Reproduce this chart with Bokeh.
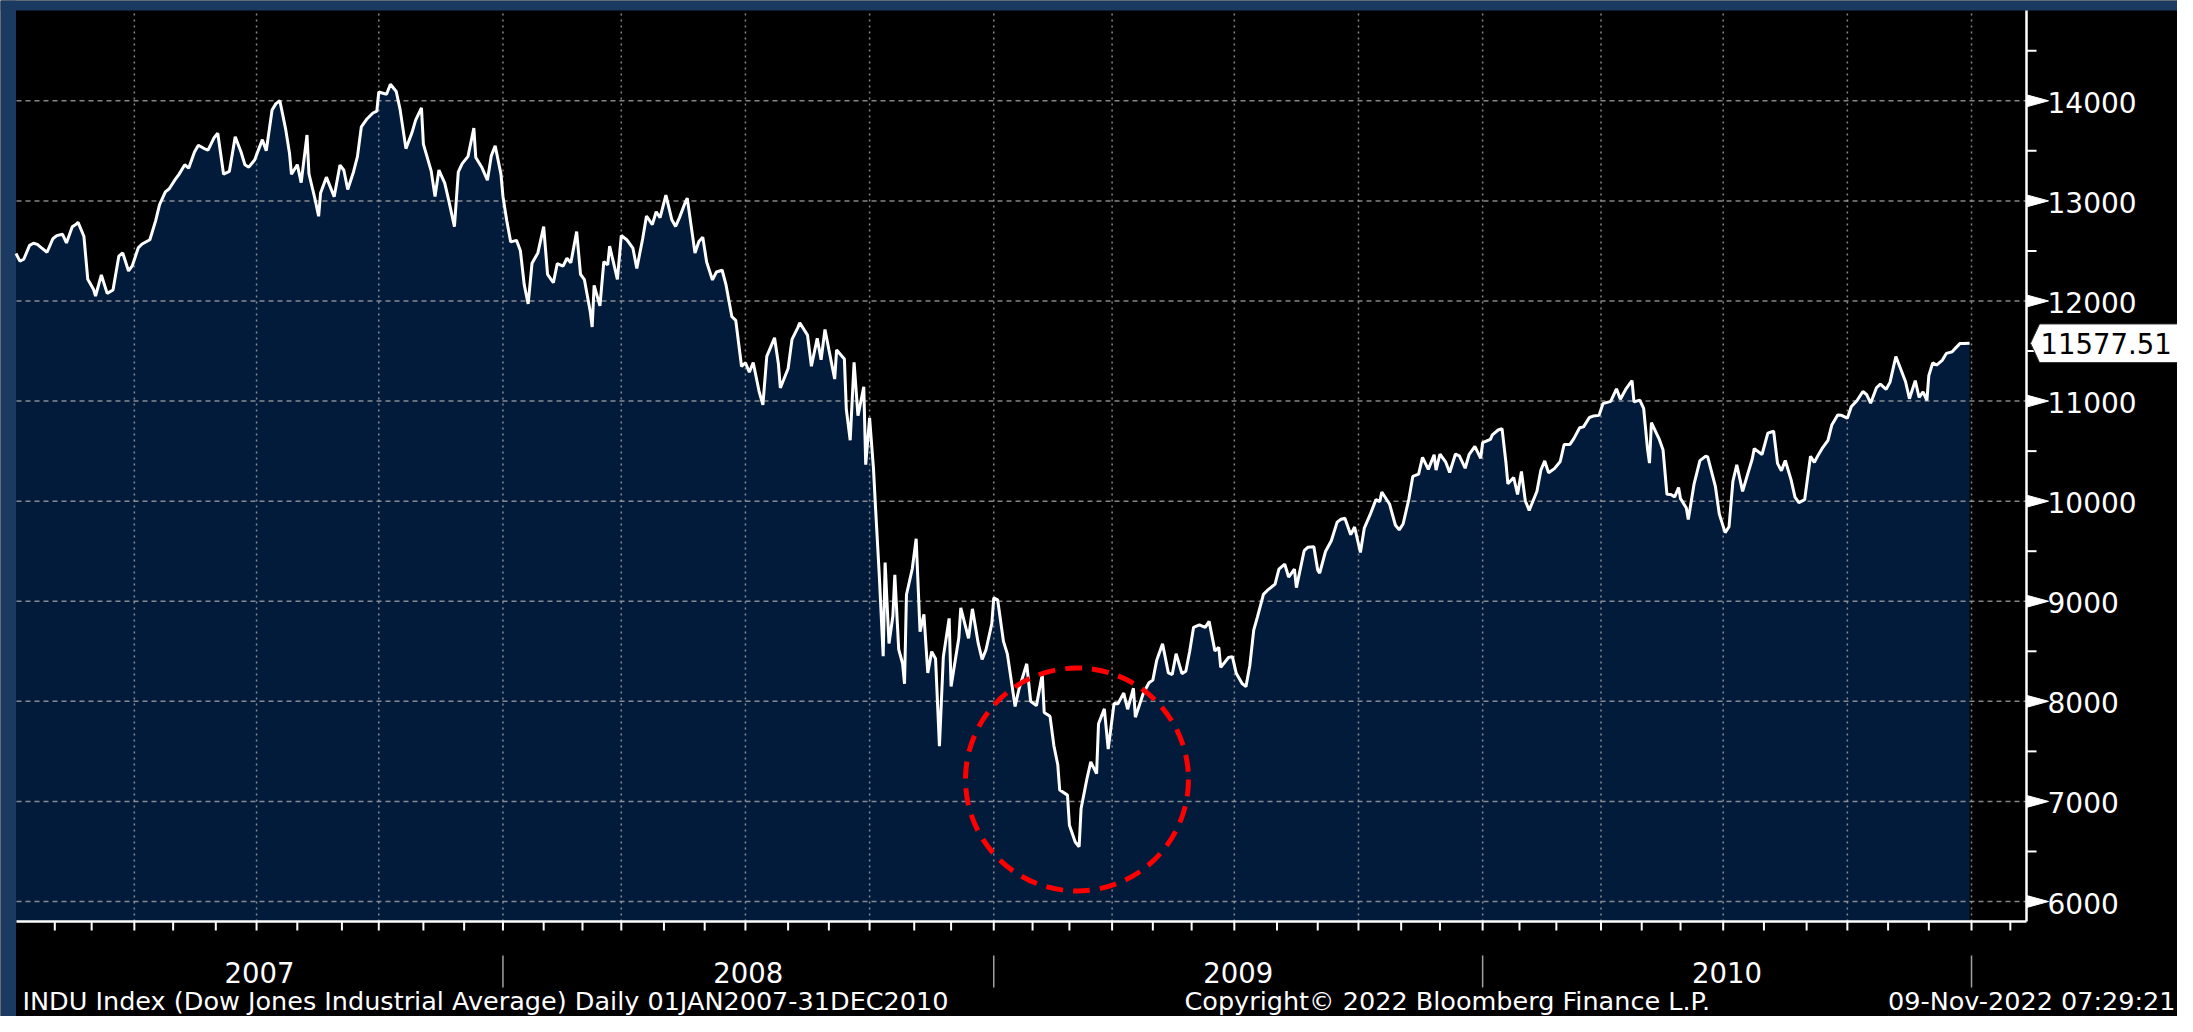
import numpy as np
from bokeh.plotting import figure
from bokeh.models import Range1d
from bokeh.core.properties import value
from bokeh.embed import file_html
from bokeh.resources import INLINE

# ---------------- data (DJIA closes) ----------------
D2007 = ["2007-01-03","2007-01-05","2007-01-09","2007-01-12","2007-01-17","2007-01-19","2007-01-23","2007-01-26","2007-01-31",
         "2007-02-02","2007-02-07","2007-02-09","2007-02-14","2007-02-16","2007-02-20","2007-02-23","2007-02-27",
         "2007-03-02","2007-03-05","2007-03-08","2007-03-13","2007-03-16","2007-03-21","2007-03-23","2007-03-28","2007-03-30",
         "2007-04-04","2007-04-09","2007-04-13","2007-04-18","2007-04-20","2007-04-25","2007-04-27",
         "2007-05-02","2007-05-04","2007-05-09","2007-05-11","2007-05-16","2007-05-18","2007-05-23","2007-05-25","2007-05-31",
         "2007-06-04","2007-06-07","2007-06-12","2007-06-15","2007-06-20","2007-06-22","2007-06-26","2007-06-29",
         "2007-07-06","2007-07-10","2007-07-13","2007-07-17","2007-07-19","2007-07-24","2007-07-26","2007-07-27",
         "2007-08-01","2007-08-03","2007-08-08","2007-08-09","2007-08-14","2007-08-16","2007-08-17","2007-08-22","2007-08-28","2007-08-31",
         "2007-09-05","2007-09-07","2007-09-12","2007-09-14","2007-09-18","2007-09-21","2007-09-26","2007-09-28",
         "2007-10-01","2007-10-05","2007-10-09","2007-10-12","2007-10-16","2007-10-19","2007-10-24","2007-10-26","2007-10-31",
         "2007-11-01","2007-11-07","2007-11-09","2007-11-13","2007-11-16","2007-11-20","2007-11-26","2007-11-28","2007-11-30",
         "2007-12-05","2007-12-10","2007-12-11","2007-12-14","2007-12-19","2007-12-21","2007-12-26","2007-12-31"]
C2007 = [12474,12398,12417,12556,12577,12565,12533,12487,12622,
         12653,12666,12580,12742,12767,12786,12647,12216,
         12114,12050,12260,12076,12110,12447,12481,12300,12354,
         12530,12569,12612,12803,12962,13090,13121,
         13212,13265,13362,13326,13488,13556,13523,13507,13628,
         13676,13267,13295,13640,13489,13361,13337,13409,
         13612,13501,13908,13972,14000,13717,13473,13266,
         13362,13182,13658,13271,13029,12846,13079,13237,13042,13358,
         13306,13114,13292,13442,13739,13821,13878,13896,
         14088,14066,14165,14093,13912,13522,13675,13807,13930,
         13567,13300,13043,13308,13177,13010,12743,13289,13372,
         13445,13728,13433,13339,13207,13450,13551,13265]

D2008 = ["2008-01-02","2008-01-04","2008-01-08","2008-01-11","2008-01-15","2008-01-17","2008-01-22","2008-01-24","2008-01-29",
         "2008-02-01","2008-02-05","2008-02-08","2008-02-12","2008-02-15","2008-02-20","2008-02-22","2008-02-27","2008-02-29",
         "2008-03-04","2008-03-07","2008-03-10","2008-03-11","2008-03-14","2008-03-18","2008-03-20","2008-03-24","2008-03-28",
         "2008-04-01","2008-04-04","2008-04-09","2008-04-11","2008-04-16","2008-04-18","2008-04-23","2008-04-25","2008-04-29",
         "2008-05-02","2008-05-07","2008-05-09","2008-05-13","2008-05-16","2008-05-19","2008-05-23","2008-05-28","2008-05-30",
         "2008-06-03","2008-06-06","2008-06-10","2008-06-13","2008-06-17","2008-06-20","2008-06-24","2008-06-27",
         "2008-07-01","2008-07-03","2008-07-08","2008-07-11","2008-07-15","2008-07-17","2008-07-23","2008-07-25","2008-07-28",
         "2008-08-01","2008-08-05","2008-08-08","2008-08-11","2008-08-15","2008-08-19","2008-08-22","2008-08-26","2008-08-28",
         "2008-09-02","2008-09-05","2008-09-08","2008-09-12","2008-09-15","2008-09-17","2008-09-19","2008-09-23","2008-09-26","2008-09-29",
         "2008-10-01","2008-10-03","2008-10-06","2008-10-08","2008-10-10","2008-10-13","2008-10-15","2008-10-17","2008-10-20",
         "2008-10-22","2008-10-24","2008-10-27","2008-10-28","2008-10-31",
         "2008-11-04","2008-11-06","2008-11-10","2008-11-12","2008-11-14","2008-11-18","2008-11-20","2008-11-24","2008-11-28",
         "2008-12-01","2008-12-05","2008-12-08","2008-12-12","2008-12-16","2008-12-19","2008-12-23","2008-12-26","2008-12-31"]
C2008 = [13044,12800,12590,12606,12501,12159,11971,12378,12480,
         12743,12265,12182,12373,12348,12427,12381,12694,12266,
         12213,11894,11740,12156,11951,12392,12361,12548,12216,
         12654,12609,12527,12325,12620,12849,12763,12891,12832,
         13058,12815,12745,12833,12986,13028,12480,12594,12638,
         12390,12210,12289,12307,12160,11843,11807,11346,
         11383,11288,11385,11100,10962,11446,11632,11370,11131,
         11326,11616,11734,11782,11659,11348,11628,11413,11715,
         11516,11220,11511,11421,10918,10609,11388,10854,11143,10365,
         10831,10325,9955,9258,8451,9387,8578,8852,9265,
         8519,8378,8175,9065,9325,
         9625,8696,8870,8283,8497,8425,7552,8443,8829,
         8149,8635,8934,8629,8924,8579,8419,8515,8776]

D2009 = ["2009-01-02","2009-01-06","2009-01-09","2009-01-13","2009-01-15","2009-01-20","2009-01-22","2009-01-28","2009-01-30",
         "2009-02-04","2009-02-09","2009-02-10","2009-02-13","2009-02-18","2009-02-20","2009-02-23","2009-02-27",
         "2009-03-02","2009-03-05","2009-03-09","2009-03-10","2009-03-13","2009-03-17","2009-03-20","2009-03-23","2009-03-26","2009-03-30",
         "2009-04-02","2009-04-06","2009-04-09","2009-04-14","2009-04-17","2009-04-20","2009-04-24","2009-04-29",
         "2009-05-01","2009-05-05","2009-05-08","2009-05-13","2009-05-15","2009-05-19","2009-05-22","2009-05-27","2009-05-29",
         "2009-06-02","2009-06-05","2009-06-10","2009-06-12","2009-06-17","2009-06-19","2009-06-22","2009-06-26","2009-06-30",
         "2009-07-02","2009-07-08","2009-07-10","2009-07-14","2009-07-16","2009-07-20","2009-07-23","2009-07-27","2009-07-31",
         "2009-08-04","2009-08-07","2009-08-11","2009-08-14","2009-08-17","2009-08-21","2009-08-25","2009-08-28",
         "2009-09-01","2009-09-02","2009-09-08","2009-09-11","2009-09-16","2009-09-18","2009-09-22","2009-09-25","2009-09-29",
         "2009-10-02","2009-10-06","2009-10-09","2009-10-14","2009-10-16","2009-10-19","2009-10-23","2009-10-28","2009-10-30",
         "2009-11-03","2009-11-06","2009-11-10","2009-11-13","2009-11-17","2009-11-20","2009-11-25","2009-11-27",
         "2009-12-01","2009-12-04","2009-12-08","2009-12-11","2009-12-15","2009-12-18","2009-12-22","2009-12-28","2009-12-31"]
C2009 = [9034,9015,8599,8474,8212,7949,8123,8375,8001,
         7957,8270,7889,7850,7556,7366,7114,7063,
         6763,6595,6547,6926,7224,7395,7278,7776,7925,7522,
         7978,7975,8083,7921,8131,7841,8076,8185,
         8212,8410,8575,8284,8268,8475,8277,8300,8500,
         8740,8764,8739,8799,8504,8539,8340,8438,8447,
         8280,8178,8147,8359,8711,8848,9069,9108,9171,
         9320,9370,9242,9321,9136,9505,9540,9544,
         9310,9281,9497,9605,9791,9820,9829,9665,9742,
         9487,9731,9865,10015,9996,10092,9972,9762,9713,
         9772,10023,10247,10270,10438,10318,10464,10310,
         10471,10389,10286,10471,10452,10329,10464,10547,10428]

D2010 = ["2010-01-04","2010-01-08","2010-01-11","2010-01-14","2010-01-19","2010-01-21","2010-01-22","2010-01-27","2010-01-29",
         "2010-02-02","2010-02-04","2010-02-08","2010-02-12","2010-02-17","2010-02-19","2010-02-23","2010-02-26",
         "2010-03-03","2010-03-05","2010-03-10","2010-03-12","2010-03-17","2010-03-19","2010-03-24","2010-03-26","2010-03-31",
         "2010-04-05","2010-04-09","2010-04-14","2010-04-16","2010-04-21","2010-04-26","2010-04-27","2010-04-30",
         "2010-05-04","2010-05-06","2010-05-07","2010-05-10","2010-05-14","2010-05-18","2010-05-20","2010-05-24","2010-05-26","2010-05-28",
         "2010-06-01","2010-06-04","2010-06-07","2010-06-10","2010-06-15","2010-06-18","2010-06-21","2010-06-25","2010-06-29",
         "2010-07-02","2010-07-07","2010-07-09","2010-07-13","2010-07-16","2010-07-20","2010-07-23","2010-07-26","2010-07-30",
         "2010-08-04","2010-08-09","2010-08-11","2010-08-13","2010-08-17","2010-08-20","2010-08-24","2010-08-26","2010-08-31",
         "2010-09-03","2010-09-08","2010-09-10","2010-09-14","2010-09-17","2010-09-21","2010-09-24","2010-09-28",
         "2010-10-01","2010-10-05","2010-10-08","2010-10-13","2010-10-15","2010-10-19","2010-10-22","2010-10-26","2010-10-29",
         "2010-11-02","2010-11-05","2010-11-09","2010-11-12","2010-11-16","2010-11-19","2010-11-23","2010-11-26","2010-11-30",
         "2010-12-01","2010-12-03","2010-12-07","2010-12-10","2010-12-14","2010-12-17","2010-12-21","2010-12-23","2010-12-28","2010-12-31"]
C2010 = [10584,10618,10663,10711,10725,10389,10173,10236,10067,
         10297,10003,9908,10099,10309,10402,10283,10325,
         10396,10566,10567,10625,10733,10742,10836,10850,10857,
         10974,10997,11123,11019,11125,11205,10992,11009,
         10926,10520,10380,10785,10620,10510,10068,10067,10043,10137,
         10025,9931,9816,10173,10405,10450,10442,10144,9870,
         9686,9744,10198,10364,10098,10230,10424,10525,10466,
         10680,10698,10378,10303,10406,10213,10040,9986,10015,
         10448,10388,10462,10527,10608,10761,10860,10858,
         10829,10944,11006,11096,11063,10979,11133,11170,11118,
         11189,11445,11346,11193,11023,11204,11036,11092,11006,
         11256,11382,11360,11410,11476,11492,11534,11574,11575,11577.51]

# NYSE holidays (the chart's x axis counts trading days)
HOLIDAYS = ["2007-01-15","2007-02-19","2007-04-06","2007-05-28","2007-07-04","2007-09-03","2007-11-22","2007-12-25",
            "2008-01-01","2008-01-21","2008-02-18","2008-03-21","2008-05-26","2008-07-04","2008-09-01","2008-11-27","2008-12-25",
            "2009-01-01","2009-01-19","2009-02-16","2009-04-10","2009-05-25","2009-07-03","2009-09-07","2009-11-26","2009-12-25",
            "2010-01-01","2010-01-18","2010-02-15","2010-04-02","2010-05-31","2010-07-05","2010-09-06","2010-11-25","2010-12-24",
            "2011-01-17","2011-02-21"]

YEAR_LABELS = ["2007", "2008", "2009", "2010"]
YEAR_BOUNDS = ["2008-01-01", "2009-01-01", "2010-01-01", "2011-01-01"]
Y_TICKS = [6000, 7000, 8000, 9000, 10000, 11000, 12000, 13000, 14000]
Y_MINOR = [6500, 7500, 8500, 9500, 10500, 11500, 12500, 13500, 14500]

TITLE_LEFT = "INDU Index (Dow Jones Industrial Average)  Daily 01JAN2007-31DEC2010"
TITLE_MID = "Copyright\u00a9 2022 Bloomberg Finance L.P."
TITLE_RIGHT = "09-Nov-2022 07:29:21"

# ---------------- derived positions ----------------
assert len(D2007) == len(C2007) and len(D2008) == len(C2008)
assert len(D2009) == len(C2009) and len(D2010) == len(C2010)

START = np.datetime64("2007-01-03")


def tidx(d):
    return np.busday_count(START, np.asarray(d, dtype="datetime64[D]"), holidays=HOLIDAYS)


dates = np.array(D2007 + D2008 + D2009 + D2010, dtype="datetime64[D]")
closes = np.array(C2007 + C2008 + C2009 + C2010, dtype=float)
x = tidx(dates).astype(float)

months = np.arange(np.datetime64("2007-02"), np.datetime64("2011-03"), dtype="datetime64[M]")
m_idx = tidx(months.astype("datetime64[D]"))
month_ticks = [float(v) for v in m_idx]
quarter_ticks = [float(v) for v, m in zip(m_idx, months.astype(int) % 12) if m in (0, 3, 6, 9)]
bounds = [float(v) for v in tidx(YEAR_BOUNDS)]
starts = [0.0] + bounds[:-1]
year_mids = [(a + b) / 2 for a, b in zip(starts, bounds)]

# ---------------- geometry (canvas pixels <-> data) ----------------
W, H = 2177, 1016
PPX = 1.94                  # px per trading day
PPY = 0.10009               # px per index point
X0 = -15.5 / PPX            # data x at canvas left
X1 = X0 + W / PPX
Y_TOP = 14000 + 100.3 / PPY  # data y at canvas top
Y_BOT = Y_TOP - H / PPY


def cx(px):
    return X0 + px / PPX


def cy(py):
    return Y_TOP - py / PPY


X_AXIS = cx(2026)
Y_AXIS = cy(921)
Y_PLOT_TOP = cy(10)

NAVY = "#031b3a"
BLUE = "#1b3a62"
GRID = "#a8a8a8"
FONT = value("DejaVu Sans")

p = figure(width=W, height=H, x_range=Range1d(X0, X1), y_range=Range1d(Y_BOT, Y_TOP),
           output_backend="svg", toolbar_location=None,
           x_axis_type=None, y_axis_type=None, min_border=0,
           background_fill_color="black", border_fill_color="black", outline_line_color=None)

# window border
p.quad(left=[X0, X0], right=[cx(15.5), X1], bottom=[Y_BOT, Y_PLOT_TOP], top=[Y_TOP, Y_TOP],
       fill_color=BLUE, line_color=None)

# area under the index
p.varea(x=x, y1=Y_AXIS, y2=closes, fill_color=NAVY, fill_alpha=1.0)

# grid
p.segment(x0=[cx(16)] * len(Y_TICKS), x1=[X_AXIS] * len(Y_TICKS), y0=Y_TICKS, y1=Y_TICKS,
          line_color=GRID, line_alpha=0.8, line_width=1.5, line_dash="5 4")
p.segment(x0=quarter_ticks, x1=quarter_ticks, y0=[Y_AXIS] * len(quarter_ticks), y1=[Y_PLOT_TOP] * len(quarter_ticks),
          line_color=GRID, line_alpha=0.8, line_width=1.5, line_dash="2 4")

# the index
p.line(x, closes, line_color="white", line_width=3)

# highlight circle around the low
imin = int(np.argmin(closes))
p.scatter(x=[x[imin] - 1.1], y=[closes[imin] + 672], marker="circle", size=223,
          fill_alpha=0, line_color="#ff0000", line_width=5, line_dash="17 10")

# axis lines
p.segment(x0=[cx(16), X_AXIS], y0=[Y_AXIS, Y_AXIS], x1=[X_AXIS, X_AXIS], y1=[Y_AXIS, Y_PLOT_TOP],
          line_color="white", line_width=2.5)

# x axis: month ticks, year separators, year labels
p.segment(x0=month_ticks, x1=month_ticks, y0=[Y_AXIS] * len(month_ticks), y1=[cy(930)] * len(month_ticks),
          line_color="white", line_width=2)
p.segment(x0=bounds, x1=bounds, y0=[cy(955)] * len(bounds), y1=[cy(987)] * len(bounds),
          line_color="#a0a0a0", line_width=1.5)
p.text(x=year_mids, y=[cy(972)] * len(year_mids), text=YEAR_LABELS, text_color="white",
       text_font=FONT, text_font_size=value("27.5px"), text_align="center", text_baseline="middle")

# y axis: arrow ticks, minor ticks, labels
p.patches(xs=[[X_AXIS, X_AXIS + 22 / PPX, X_AXIS] for _ in Y_TICKS],
          ys=[[v + 6 / PPY, v, v - 6 / PPY] for v in Y_TICKS],
          fill_color="white", line_color="white", line_width=1)
p.segment(x0=[X_AXIS] * len(Y_MINOR), x1=[X_AXIS + 10 / PPX] * len(Y_MINOR), y0=Y_MINOR, y1=Y_MINOR,
          line_color="white", line_width=2)
p.text(x=[cx(2047)] * len(Y_TICKS), y=[v - 1.5 / PPY for v in Y_TICKS], text=[str(v) for v in Y_TICKS],
       text_color="white", text_font=FONT, text_font_size=value("28px"),
       text_align="left", text_baseline="middle")

# last value tag
last = float(closes[-1])
hh = 19.3 / PPY
p.patch(x=[cx(2030), cx(2039), cx(2200), cx(2200), cx(2039)],
        y=[last, last + hh, last + hh, last - hh, last - hh],
        fill_color="white", line_color="#303030", line_width=1)
p.text(x=[cx(2040)], y=[last - 0.5 / PPY], text=[f"{last:.2f}"], text_color="black",
       text_font=FONT, text_font_size=value("27.5px"), text_align="left", text_baseline="middle")

# footer
fy = cy(1000)
p.text(x=[cx(22)], y=[fy], text=[TITLE_LEFT], text_color="white", text_font=FONT,
       text_font_size=value("25.5px"), text_align="left", text_baseline="middle")
p.text(x=[cx(1184)], y=[fy], text=[TITLE_MID], text_color="white", text_font=FONT,
       text_font_size=value("25.5px"), text_align="left", text_baseline="middle")
p.text(x=[cx(2175)], y=[fy], text=[TITLE_RIGHT], text_color="white", text_font=FONT,
       text_font_size=value("25.5px"), text_align="right", text_baseline="middle")

open("out.html", "w").write(file_html(p, INLINE))
